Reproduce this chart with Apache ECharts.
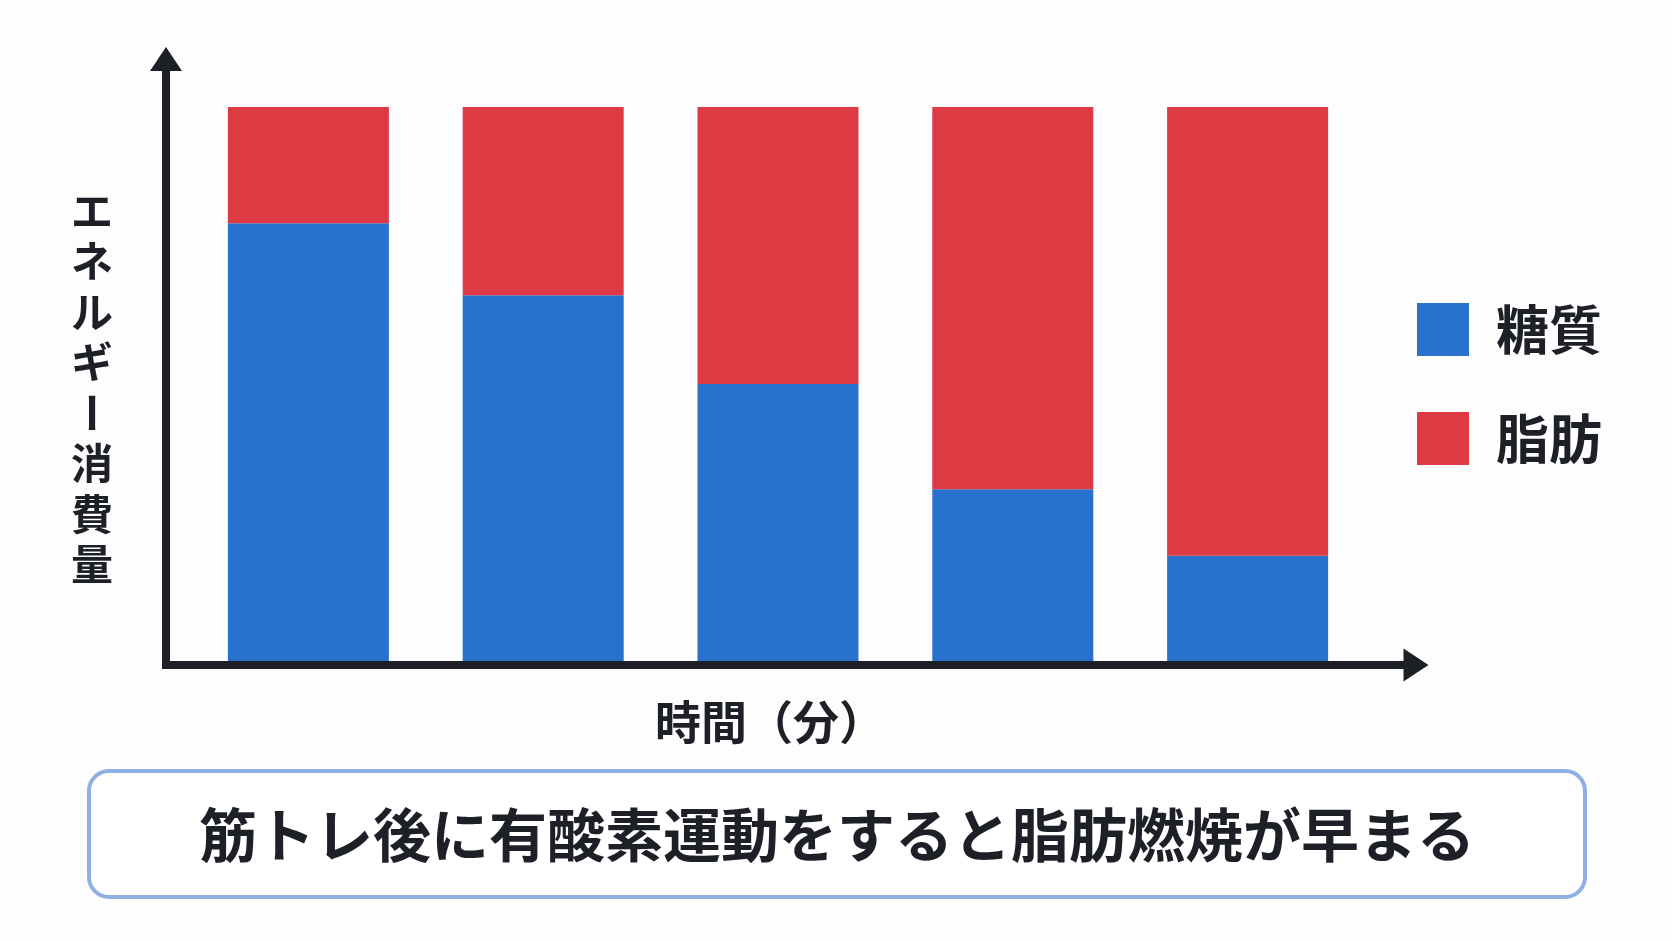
<!DOCTYPE html>
<html>
<head>
<meta charset="utf-8">
<title>筋トレ後に有酸素運動</title>
<script src="https://cdn.jsdelivr.net/npm/echarts@6/dist/echarts.min.js"></script>
<style>
  html, body { margin: 0; padding: 0; background: #fdfdfd; }
  #main { width: 1672px; height: 941px; }
</style>
</head>
<body>
<div id="main"></div>
<script>
// data (share of energy, %)
const categories = ['1', '2', '3', '4', '5']
const carbValues = [79, 66, 50, 31, 19]
const fatValues = [21, 34, 50, 69, 81]
const seriesNames = ['糖質', '脂肪']
const yAxisLabel = ['エ', 'ネ', 'ル', 'ギ', 'ー', '消', '費', '量']
const xAxisLabel = '時間（分）'
const captionText = '筋トレ後に有酸素運動をすると脂肪燃焼が早まる'

const FONT = '"Noto Sans CJK JP", "Noto Sans", sans-serif'
const INK = '#1d2027'
const BLUE = '#2871cd'
const RED = '#de3a44'

// vertical axis name, one char per line; the long vowel mark is turned upright
const yNameItems = yAxisLabel.map((ch, i) => {
  return {
    type: 'text',
    x: 92,
    y: 211 + i * 50.5,
    rotation: ch === 'ー' ? -Math.PI / 2 : 0,
    style: {
      text: ch,
      fill: INK,
      font: 'bold 42px ' + FONT,
      align: 'center',
      verticalAlign: 'middle'
    }
  }
})

const chart = echarts.init(document.getElementById('main'))
const option = {
  backgroundColor: '#fdfdfd',
  animation: false,
  legend: {
    orient: 'vertical',
    left: 1417,
    top: 303,
    padding: 0,
    icon: 'rect',
    itemWidth: 52,
    itemHeight: 53,
    itemGap: 56,
    data: seriesNames,
    textStyle: {
      fontFamily: FONT,
      fontSize: 53,
      fontWeight: 'bold',
      color: INK,
      lineHeight: 53,
      padding: [0, 0, 0, 22]
    }
  },
  grid: [
    // bars
    { left: 191, right: 307, top: 107, bottom: 280 },
    // axis lines with arrows
    { left: 166, right: 256, top: 59, bottom: 276 }
  ],
  xAxis: [
    { type: 'category', gridIndex: 0, data: categories, show: false },
    {
      type: 'value', gridIndex: 1, min: 0, max: 1,
      axisLine: {
        show: true,
        symbol: ['none', 'triangle'],
        symbolSize: [33, 25],
        lineStyle: { color: INK, width: 8, cap: 'square' }
      },
      axisTick: { show: false },
      axisLabel: { show: false },
      splitLine: { show: false }
    }
  ],
  yAxis: [
    { type: 'value', gridIndex: 0, min: 0, max: 100, show: false },
    {
      type: 'value', gridIndex: 1, min: 0, max: 1,
      axisLine: {
        show: true,
        symbol: ['none', 'triangle'],
        symbolSize: [32, 24],
        lineStyle: { color: INK, width: 8, cap: 'square' }
      },
      axisTick: { show: false },
      axisLabel: { show: false },
      splitLine: { show: false }
    }
  ],
  series: [
    {
      name: seriesNames[0],
      type: 'bar',
      stack: 'energy',
      barWidth: 161,
      data: carbValues,
      itemStyle: { color: BLUE }
    },
    {
      name: seriesNames[1],
      type: 'bar',
      stack: 'energy',
      barWidth: 161,
      data: fatValues,
      itemStyle: { color: RED }
    }
  ],
  graphic: [
    ...yNameItems,
    {
      type: 'text',
      x: 770,
      y: 722,
      style: {
        text: xAxisLabel,
        fill: INK,
        font: 'bold 46px ' + FONT,
        align: 'center',
        verticalAlign: 'middle'
      }
    },
    // caption box
    {
      type: 'rect',
      shape: { x: 89, y: 771, width: 1496, height: 126, r: 20 },
      style: { fill: '#ffffff', stroke: '#8eb0e2', lineWidth: 4 }
    },
    {
      type: 'text',
      x: 837,
      y: 835,
      style: {
        text: captionText,
        fill: INK,
        font: 'bold 58px ' + FONT,
        align: 'center',
        verticalAlign: 'middle'
      }
    }
  ]
}
chart.setOption(option)
</script>
</body>
</html>
